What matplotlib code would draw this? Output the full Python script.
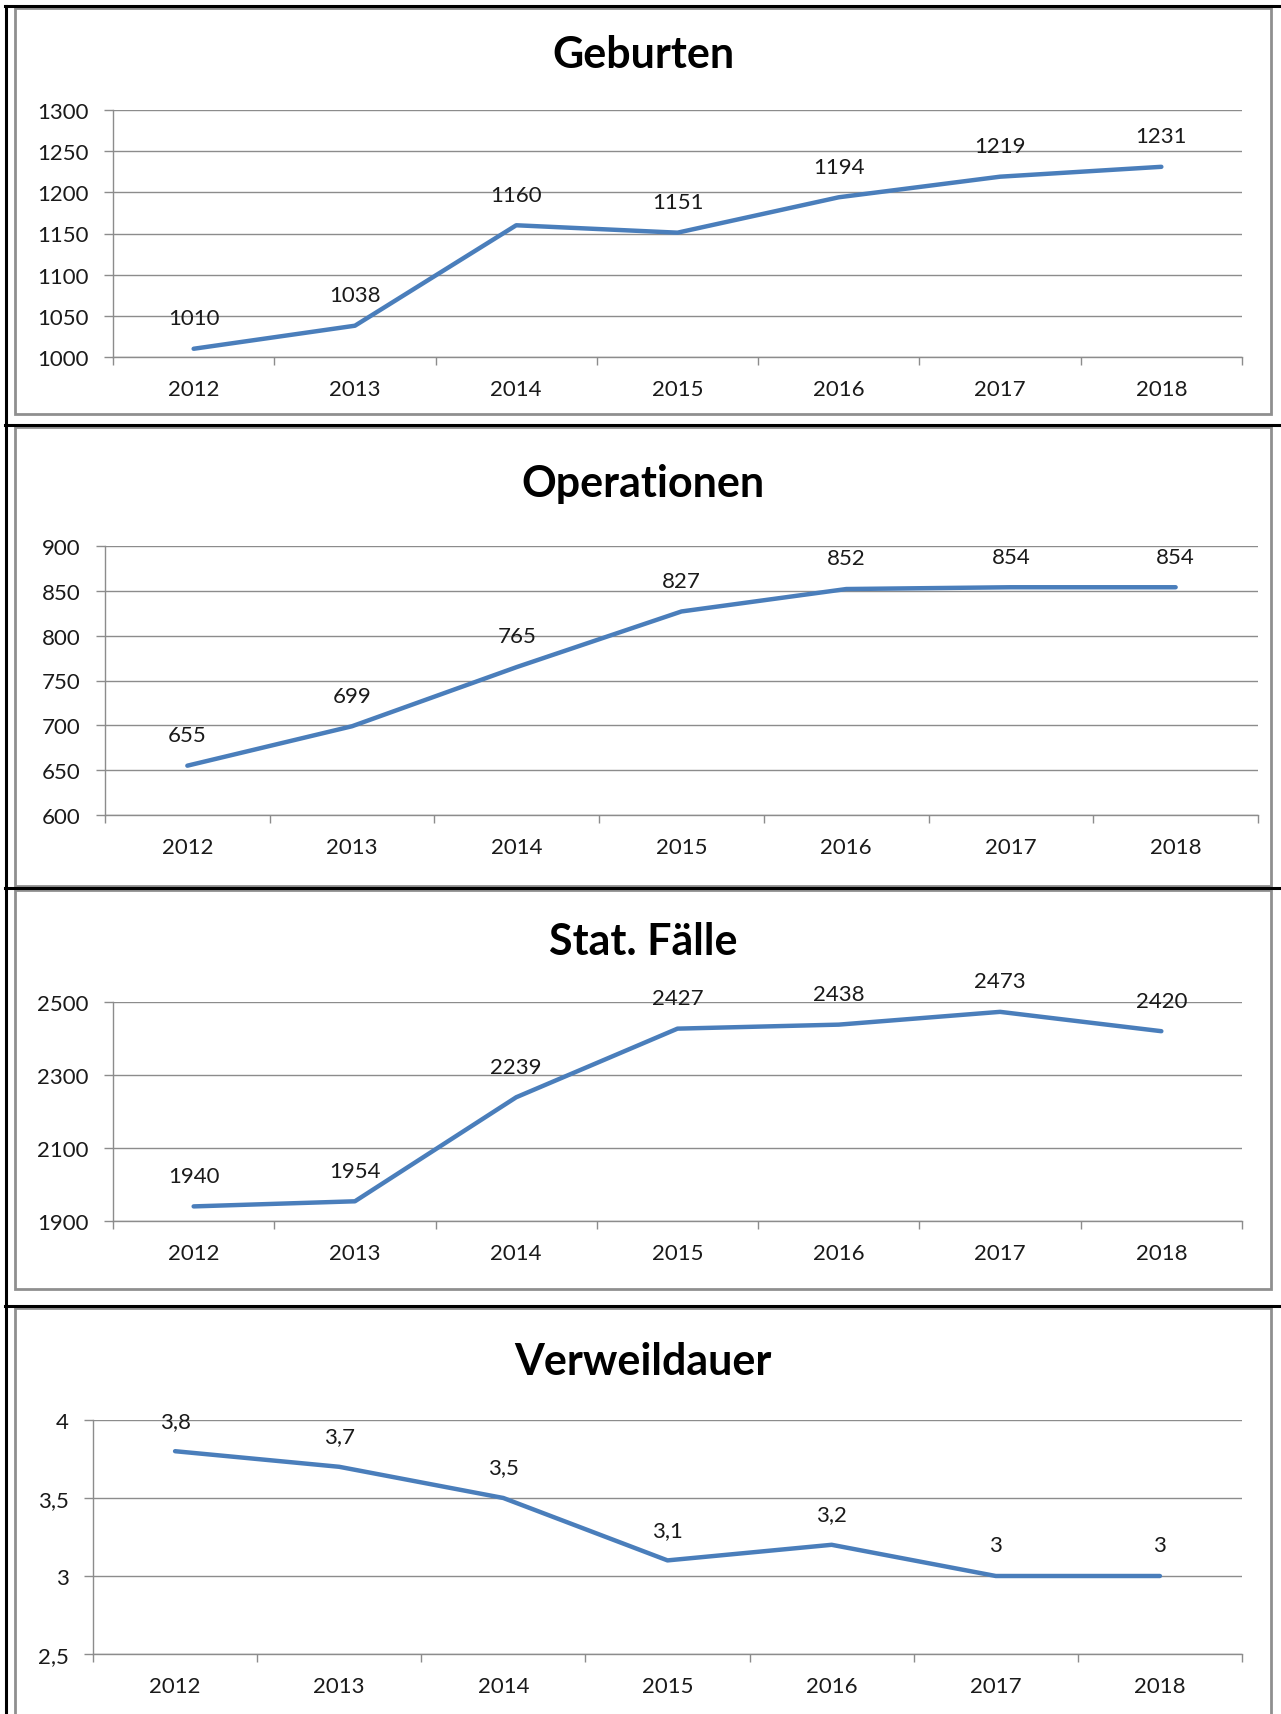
import matplotlib
matplotlib.use("Agg")
import matplotlib.pyplot as plt
from matplotlib.patches import Rectangle
from matplotlib.lines import Line2D
import matplotlib.ticker as mticker
import numpy as np

# Data
years = ["2012", "2013", "2014", "2015", "2016", "2017", "2018"]
geburten = [1010, 1038, 1160, 1151, 1194, 1219, 1231]
operationen = [655, 699, 765, 827, 852, 854, 854]
stat_faelle = [1940, 1954, 2239, 2427, 2438, 2473, 2420]
verweildauer = [3.8, 3.7, 3.5, 3.1, 3.2, 3.0, 3.0]

titles = ["Geburten", "Operationen", "Stat. Fälle", "Verweildauer"]
series = [geburten, operationen, stat_faelle, verweildauer]
y_ticks = [
    [1000, 1050, 1100, 1150, 1200, 1250, 1300],
    [600, 650, 700, 750, 800, 850, 900],
    [1900, 2100, 2300, 2500],
    [2.5, 3.0, 3.5, 4.0],
]

W, H = 1281, 1715
plt.rcParams['font.family'] = ['Lato', 'DejaVu Sans']

fig = plt.figure(figsize=(W / 100, H / 100), dpi=100)
fig.patch.set_facecolor("white")

# pixel layout (left, top, right, bottom) of each plot area
plot_boxes = [
    (113, 111, 1242, 358),
    (105, 547, 1258, 816),
    (113, 1003, 1242, 1222),
    (93, 1421, 1242, 1655),
]
title_y = [55, 484, 942, 1362]
frames = [(15, 9, 1271, 415), (15, 428, 1271, 887), (15, 891, 1271, 1290), (15, 1309, 1271, 1720)]
black_lines = [7, 426, 889, 1307]

LINE_COLOR = "#4A7EBB"
GRID_COLOR = "#8C8C8C"
TEXT_COLOR = "#1A1A1A"
FS = 16


def fmt(v):
    return f"{v:g}".replace(".", ",")


def to_fig(l, t, r, b):
    return [l / W, 1 - b / H, (r - l) / W, (b - t) / H]


# outer frames
for (l, t, r, b) in frames:
    fig.patches.append(Rectangle((l / W, 1 - b / H), (r - l) / W, (b - t) / H,
                                 transform=fig.transFigure, fill=False,
                                 edgecolor="#8F8F8F", linewidth=2, zorder=0))
for y in black_lines:
    fig.lines.append(Line2D([5 / W, 1], [1 - y / H, 1 - y / H], transform=fig.transFigure,
                            color="black", linewidth=2.2))
fig.lines.append(Line2D([5.5 / W, 5.5 / W], [1 - 7 / H, 0], transform=fig.transFigure,
                        color="black", linewidth=2.2))

x = np.arange(len(years))
for i, (title, vals, ticks) in enumerate(zip(titles, series, y_ticks)):
    ax = fig.add_axes(to_fig(*plot_boxes[i]))
    ax.plot(x, vals, color=LINE_COLOR, linewidth=3.2, solid_capstyle="round", zorder=3)
    ax.set_xlim(-0.5, len(years) - 0.5)
    ax.set_ylim(ticks[0], ticks[-1])
    ax.set_yticks(ticks)
    ax.yaxis.set_major_formatter(mticker.FuncFormatter(lambda v, p: fmt(v)))
    ax.set_xticks(x)
    ax.set_xticklabels(years)
    ax.set_xticks(np.arange(-0.5, len(years), 1.0), minor=True)
    ax.tick_params(axis="x", which="major", length=0, pad=16, labelsize=FS, labelcolor=TEXT_COLOR)
    ax.tick_params(axis="x", which="minor", length=6, width=1, color=GRID_COLOR, direction="out")
    ax.tick_params(axis="y", length=6.5, width=1, color=GRID_COLOR, pad=11, labelsize=FS,
                   labelcolor=TEXT_COLOR)
    ax.grid(axis="y", color=GRID_COLOR, linewidth=1)
    ax.set_axisbelow(True)
    for s in ["top", "right"]:
        ax.spines[s].set_visible(False)
    for s in ["left", "bottom"]:
        ax.spines[s].set_color(GRID_COLOR)
        ax.spines[s].set_linewidth(1)
    ax.patch.set_alpha(0)

    for xi, v in zip(x, vals):
        ax.annotate(fmt(v), (xi, v), xytext=(0, 22), textcoords="offset points",
                    ha="center", va="center", fontsize=FS, color=TEXT_COLOR)

    fig.text(643 / W, 1 - title_y[i] / H, title, ha="center", va="center",
             fontsize=31, fontweight="bold", color="black")

fig.savefig("out.png", dpi=100)
